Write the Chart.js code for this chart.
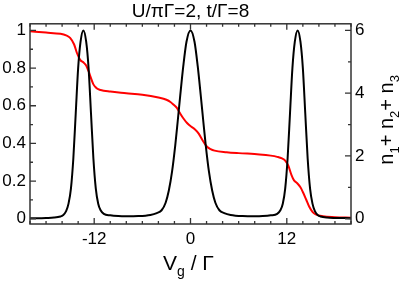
<!DOCTYPE html>
<html>
<head>
<meta charset="utf-8">
<script src="https://cdn.jsdelivr.net/npm/chart.js@4"></script>
<style>
  body { margin: 0; background: #fff; }
  canvas { display: block; }
</style>
</head>
<body>
<canvas id="chart" width="403" height="284"></canvas>
<script>
// conductance (left axis)
const vgBlack = [-20, -18, -17, -16.2, -15.9, -15.5, -15.2, -14.9, -14.6, -14.3, -14.0, -13.7, -13.35,
  -13.0, -12.7, -12.4, -12.1, -11.8, -11.5, -11.2, -10.8, -10, -9, -8, -6.5, -5, -4.2, -3.6, -3.1,
  -2.7, -2.3, -1.9, -1.6, -1.3, -0.9, -0.5, 0, 0.5, 0.9, 1.3, 1.6, 1.9, 2.3, 2.7, 3.1, 3.6, 4.2, 5,
  6.5, 8, 9, 10, 10.8, 11.2, 11.5, 11.8, 12.1, 12.4, 12.7, 13.0, 13.35, 13.7, 14.0, 14.3, 14.6, 14.9,
  15.2, 15.5, 15.9, 16.2, 17, 18, 20];
const conductance = [0.002, 0.004, 0.006, 0.012, 0.018, 0.04, 0.08, 0.16, 0.32, 0.56, 0.8, 0.94, 1.0,
  0.94, 0.8, 0.56, 0.32, 0.16, 0.08, 0.045, 0.026, 0.018, 0.014, 0.013, 0.014, 0.02, 0.03, 0.045, 0.085,
  0.15, 0.25, 0.39, 0.515, 0.645, 0.81, 0.94, 1.0, 0.94, 0.81, 0.645, 0.515, 0.39, 0.25, 0.15, 0.085, 0.045, 0.03, 0.02,
  0.014, 0.013, 0.014, 0.018, 0.026, 0.045, 0.08, 0.16, 0.32, 0.56, 0.8, 0.94, 1.0, 0.94, 0.8, 0.56, 0.32, 0.16,
  0.08, 0.04, 0.018, 0.012, 0.006, 0.004, 0.003];

// occupation n1+n2+n3 (right axis)
const vgRed = [-20, -18, -16.2, -15.5, -15, -14.5, -14.15, -13.75, -13.3, -13.0, -12.7, -12.4, -12.1,
  -11.7, -11.2, -10, -8, -6, -4, -3, -2.5, -2.1, -1.7, -1.3, -0.9, -0.4, 0.1, 0.5, 1.0, 1.5, 2.0, 2.5,
  3, 4.5, 6, 8.6, 10, 10.8, 11.4, 11.8, 12.2, 12.6, 12.9, 13.3, 13.7, 14.0, 14.4, 14.8, 15.2, 15.6,
  16.5, 18, 20];
const occupation = [5.97, 5.93, 5.89, 5.84, 5.76, 5.55, 5.28, 5.06, 4.97, 4.88, 4.7, 4.48, 4.28,
  4.16, 4.1, 4.05, 4.0, 3.95, 3.86, 3.79, 3.72, 3.63, 3.53, 3.36, 3.2, 3.04, 2.93, 2.86, 2.72, 2.5, 2.31, 2.22,
  2.17, 2.12, 2.09, 2.05, 2.01, 1.97, 1.92, 1.85, 1.68, 1.38, 1.22, 1.13, 1.0, 0.85, 0.62, 0.38, 0.22, 0.14,
  0.08, 0.05, 0.03];

const xTicks = [-12, 0, 12];
const leftTicks = [0, 0.2, 0.4, 0.6, 0.8, 1];
const rightTicks = [0, 2, 4, 6];

const FONT = "'Liberation Sans', Arial, Helvetica, sans-serif";

function minorList(from, to, step) {
  const out = [];
  for (let v = from; v <= to + 1e-9; v += step) out.push(Math.round(v * 1000) / 1000);
  return out;
}

// inward ticks, frame and axis titles with subscripts
const framePlugin = {
  id: 'frame',
  afterDraw(chart) {
    const ctx = chart.ctx;
    const a = chart.chartArea;
    const sx = chart.scales.x, sl = chart.scales.y, sr = chart.scales.y1;
    ctx.save();
    ctx.strokeStyle = '#333';
    ctx.lineWidth = 1.3;
    ctx.beginPath();
    minorList(-20, 20, 2).forEach(v => {
      const px = sx.getPixelForValue(v);
      const len = xTicks.includes(v) ? 6 : 3;
      ctx.moveTo(px, a.bottom); ctx.lineTo(px, a.bottom - len);
      ctx.moveTo(px, a.top); ctx.lineTo(px, a.top + len);
    });
    minorList(0, 1, 0.1).forEach(v => {
      const py = sl.getPixelForValue(v);
      const len = leftTicks.includes(v) ? 6 : 3;
      ctx.moveTo(a.left, py); ctx.lineTo(a.left + len, py);
    });
    minorList(0, 6, 1).forEach(v => {
      const py = sr.getPixelForValue(v);
      const len = rightTicks.includes(v) ? 6 : 3;
      ctx.moveTo(a.right, py); ctx.lineTo(a.right - len, py);
    });
    ctx.stroke();
    ctx.lineWidth = 1.5;
    ctx.strokeRect(a.left, a.top, a.right - a.left, a.bottom - a.top);

    // x title: V_g / Γ
    ctx.fillStyle = '#000';
    ctx.textBaseline = 'alphabetic';
    ctx.textAlign = 'left';
    const big = '21px ' + FONT, small = '14px ' + FONT;
    ctx.font = big; const wV = ctx.measureText('V').width;
    ctx.font = small; const wg = ctx.measureText('g').width;
    ctx.font = big; const wRest = ctx.measureText(' / Γ').width;
    let x0 = (a.left + a.right) / 2 - 2 - (wV + wg + wRest) / 2;
    const base = 270;
    ctx.font = big; ctx.fillText('V', x0, base);
    ctx.font = small; ctx.fillText('g', x0 + wV, base + 6);
    ctx.font = big; ctx.fillText(' / Γ', x0 + wV + wg, base);

    // right title: n1 + n2 + n3, rotated
    ctx.translate(393, (a.top + a.bottom) / 2 - 4);
    ctx.rotate(-Math.PI / 2);
    const nf = '20px ' + FONT, sf = '13px ' + FONT;
    const parts = [['n', nf, 0], ['1', sf, 6], ['+ ', nf, 0], ['n', nf, 0], ['2', sf, 6], ['+ ', nf, 0], ['n', nf, 0], ['3', sf, 6]];
    let total = 0;
    parts.forEach(p => { ctx.font = p[1]; total += ctx.measureText(p[0]).width; });
    let cx = -total / 2;
    parts.forEach(p => {
      ctx.font = p[1];
      ctx.fillText(p[0], cx, p[2]);
      cx += ctx.measureText(p[0]).width;
    });
    ctx.restore();
  }
};

const tickFont = { family: FONT, size: 17 };
const plainLabel = v => String(Math.round(v * 100) / 100);

new Chart(document.getElementById('chart'), {
  type: 'line',
  data: {
    datasets: [
      {
        label: 'G',
        data: vgBlack.map((v, i) => ({ x: v, y: conductance[i] })),
        borderColor: '#000',
        borderWidth: 2,
        pointRadius: 0,
        cubicInterpolationMode: 'monotone',
        yAxisID: 'y'
      },
      {
        label: 'n1+n2+n3',
        data: vgRed.map((v, i) => ({ x: v, y: occupation[i] })),
        borderColor: '#ff0000',
        borderWidth: 2,
        pointRadius: 0,
        cubicInterpolationMode: 'monotone',
        yAxisID: 'y1'
      }
    ]
  },
  options: {
    responsive: false,
    animation: false,
    layout: { padding: 0 },
    plugins: {
      legend: { display: false },
      tooltip: { enabled: false },
      title: {
        display: true,
        text: 'U/πΓ=2, t/Γ=8',
        color: '#000',
        font: { family: FONT, size: 19, weight: 'normal' },
        padding: { top: 0, bottom: 1 },
        fullSize: false
      }
    },
    scales: {
      x: {
        type: 'linear',
        min: -20,
        max: 20,
        grid: { display: false, drawTicks: false },
        border: { display: false },
        afterBuildTicks: s => { s.ticks = xTicks.map(v => ({ value: v })); },
        afterFit: s => { s.height = 60; },
        ticks: { color: '#000', font: tickFont, padding: 5, maxRotation: 0, callback: plainLabel }
      },
      y: {
        position: 'left',
        min: -0.028,
        max: 1.035,
        grid: { display: false, drawTicks: false },
        border: { display: false },
        afterBuildTicks: s => { s.ticks = leftTicks.map(v => ({ value: v })); },
        afterFit: s => { s.width = 30; },
        ticks: { color: '#000', font: tickFont, padding: 4, callback: plainLabel }
      },
      y1: {
        position: 'right',
        min: -0.168,
        max: 6.21,
        grid: { display: false, drawTicks: false },
        border: { display: false },
        afterBuildTicks: s => { s.ticks = rightTicks.map(v => ({ value: v })); },
        afterFit: s => { s.width = 52; },
        ticks: { color: '#000', font: tickFont, padding: 4, callback: plainLabel }
      }
    }
  },
  plugins: [framePlugin]
});
</script>
</body>
</html>
